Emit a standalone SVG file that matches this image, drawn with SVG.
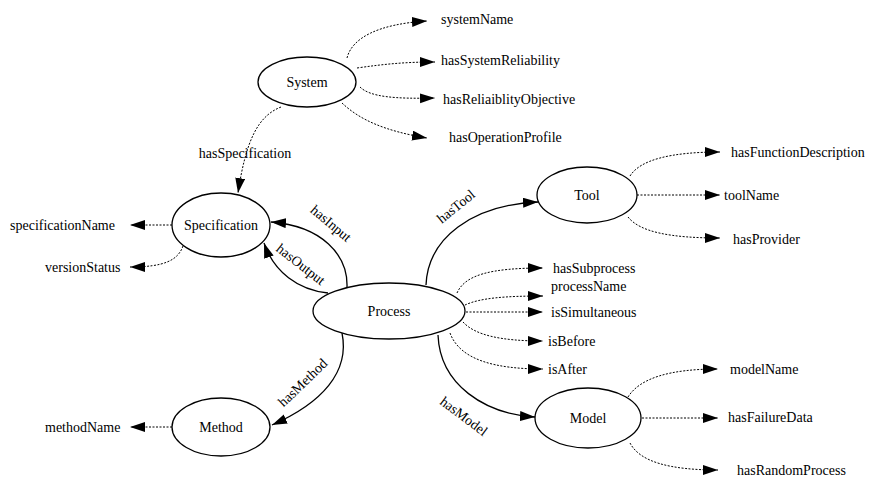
<svg xmlns="http://www.w3.org/2000/svg" width="871" height="480" viewBox="0 0 871 480" font-family="'Liberation Serif', 'DejaVu Serif', serif" font-size="14">
<style>
text{font-family:"Liberation Serif","DejaVu Serif",serif;font-size:14px;fill:#000}
.n ellipse{fill:#fff;stroke:#000;stroke-width:1.3}
.n text{text-anchor:middle}
.d{fill:none;stroke:#000;stroke-width:1;stroke-dasharray:2,1.5;marker-end:url(#ah)}
.s{fill:none;stroke:#000;stroke-width:1.3;marker-end:url(#ah)}
</style>
<defs>
<marker id="ah" markerUnits="userSpaceOnUse" markerWidth="16" markerHeight="12" refX="15" refY="5" orient="auto">
<path d="M0,0 L15,5 L0,10 z" fill="#000"/>
</marker>
</defs>
<rect width="871" height="480" fill="#fff"/>
<g id="connectors">
<path class="d" d="M347,58 C352,38 378,24 427,21"/>
<path class="d" d="M357,68 C385,64 405,62 435,62"/>
<path class="d" d="M360,87 C370,97 395,99 435,98"/>
<path class="d" d="M342,103 C360,120 385,131 427,138"/>
<path class="d" d="M281,107 C258,116 246,140 238,193"/>
<path class="d" d="M172,225 L130,225"/>
<path class="d" d="M183,246 C178,260 165,267 130,267"/>
<path class="d" d="M172,427 L130,427"/>
<path class="s" d="M347,287 C348,255 322,226 271,222"/>
<path class="s" d="M328,293 C298,290 274,272 264,243"/>
<path class="s" d="M426,285 C428,238 472,205 538,202"/>
<path class="s" d="M342,333 C350,372 322,403 272,425"/>
<path class="s" d="M438,335 C440,385 485,414 535,417"/>
<path class="d" d="M457,293 C465,275 490,268 543,268"/>
<path class="d" d="M465,305 C480,298 505,296 543,296"/>
<path class="d" d="M466,312 L543,312"/>
<path class="d" d="M463,322 C475,335 500,341 543,341"/>
<path class="d" d="M450,333 C460,360 495,369 543,369"/>
<path class="d" d="M630,176 C640,160 670,152 720,152"/>
<path class="d" d="M637,195 L720,195"/>
<path class="d" d="M628,217 C640,232 670,238 720,238"/>
<path class="d" d="M628,397 C640,378 670,369 718,369"/>
<path class="d" d="M642,418 L718,418"/>
<path class="d" d="M630,443 C640,462 670,470 718,470"/>
<text x="245" y="158" text-anchor="middle">hasSpecification</text>
<text transform="translate(328,227) rotate(40)" text-anchor="middle">hasInput</text>
<text transform="translate(298,268) rotate(38)" text-anchor="middle">hasOutput</text>
<text transform="translate(459,210) rotate(-39)" text-anchor="middle">hasTool</text>
<text transform="translate(306,386) rotate(-44)" text-anchor="middle">hasMethod</text>
<text transform="translate(461,420) rotate(37)" text-anchor="middle">hasModel</text>
</g>
<g id="attributes">
<text x="441" y="24">systemName</text>
<text x="441" y="65">hasSystemReliability</text>
<text x="443" y="104">hasReliaiblityObjective</text>
<text x="449" y="142">hasOperationProfile</text>
<text x="10" y="230">specificationName</text>
<text x="45" y="272">versionStatus</text>
<text x="45" y="432">methodName</text>
<text x="731" y="157">hasFunctionDescription</text>
<text x="724" y="200">toolName</text>
<text x="733" y="244">hasProvider</text>
<text x="553" y="273">hasSubprocess</text>
<text x="551" y="291">processName</text>
<text x="551" y="317">isSimultaneous</text>
<text x="548" y="346">isBefore</text>
<text x="548" y="374">isAfter</text>
<text x="730" y="374">modelName</text>
<text x="728" y="422">hasFailureData</text>
<text x="737" y="475">hasRandomProcess</text>
</g>
<g id="System" class="n"><ellipse cx="307" cy="82" rx="49" ry="25"/><text x="307" y="87">System</text></g>
<g id="Specification" class="n"><ellipse cx="221" cy="225" rx="49" ry="32"/><text x="221" y="230">Specification</text></g>
<g id="Process" class="n"><ellipse cx="389" cy="311" rx="76" ry="28"/><text x="389" y="316">Process</text></g>
<g id="Tool" class="n"><ellipse cx="587" cy="195" rx="50" ry="28"/><text x="587" y="200">Tool</text></g>
<g id="Method" class="n"><ellipse cx="221" cy="427" rx="49" ry="29"/><text x="221" y="432">Method</text></g>
<g id="Model" class="n"><ellipse cx="588" cy="418" rx="53" ry="30"/><text x="588" y="423">Model</text></g>
</svg>
